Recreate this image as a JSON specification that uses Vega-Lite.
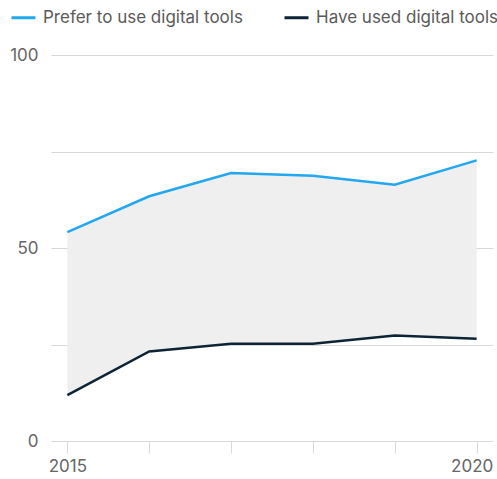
{
  "$schema": "https://vega.github.io/schema/vega-lite/v6.json",
  "width": 442,
  "height": 386,
  "autosize": {"type": "none"},
  "padding": {"left": 51, "top": 55, "right": 4, "bottom": 38},
  "background": "white",
  "config": {
    "view": {"stroke": null},
    "font": "Inter",
    "axis": {"labelFont": "Inter", "labelColor": "#666666", "labelFontSize": 17},
    "legend": {"labelFont": "Inter", "labelColor": "#5a5a5a", "labelFontSize": 17, "labelLimit": 0}
  },
  "data": {
    "values": [
      {"year": 2015, "Prefer to use digital tools": 54.1, "Have used digital tools": 11.9},
      {"year": 2016, "Prefer to use digital tools": 63.4, "Have used digital tools": 23.2},
      {"year": 2017, "Prefer to use digital tools": 69.4, "Have used digital tools": 25.2},
      {"year": 2018, "Prefer to use digital tools": 68.7, "Have used digital tools": 25.2},
      {"year": 2019, "Prefer to use digital tools": 66.4, "Have used digital tools": 27.3},
      {"year": 2020, "Prefer to use digital tools": 72.7, "Have used digital tools": 26.5}
    ]
  },
  "layer": [
    {
      "mark": {"type": "area", "color": "#efefef", "opacity": 1},
      "encoding": {
        "x": {
          "field": "year", "type": "quantitative",
          "scale": {"domain": [2014.8, 2020.2], "nice": false, "zero": false},
          "axis": {
            "title": null, "domain": false, "grid": false,
            "values": [2015, 2016, 2017, 2018, 2019, 2020],
            "format": "d",
            "labelExpr": "datum.value == 2015 || datum.value == 2020 ? datum.label : ''",
            "ticks": true, "tickSize": 12, "tickColor": "#d9d9d9", "tickWidth": 1,
            "labelPadding": 5,
            "labelOffset": {"condition": {"test": "datum.value == 2020", "value": -5}, "value": 0}
          }
        },
        "y": {
          "field": "Prefer to use digital tools", "type": "quantitative",
          "scale": {"domain": [0, 100], "nice": false},
          "axis": {
            "title": null, "domain": false, "ticks": false,
            "values": [0, 25, 50, 75, 100],
            "labelExpr": "datum.value % 50 === 0 ? datum.label : ''",
            "gridColor": "#d9d9d9", "gridWidth": 1,
            "labelPadding": 13
          }
        },
        "y2": {"field": "Have used digital tools"}
      }
    },
    {
      "transform": [
        {"fold": ["Prefer to use digital tools", "Have used digital tools"], "as": ["series", "value"]}
      ],
      "mark": {"type": "line", "strokeWidth": 2.5},
      "encoding": {
        "x": {"field": "year", "type": "quantitative"},
        "y": {"field": "value", "type": "quantitative"},
        "color": {
          "field": "series", "type": "nominal",
          "scale": {
            "domain": ["Prefer to use digital tools", "Have used digital tools"],
            "range": ["#22a7f0", "#0e2436"]
          },
          "legend": {
            "title": null,
            "orient": "none",
            "legendX": -41,
            "legendY": -51,
            "direction": "horizontal",
            "symbolType": "stroke",
            "symbolStrokeWidth": 3,
            "symbolSize": 576,
            "labelOffset": 6,
            "columnPadding": 35
          }
        }
      }
    }
  ]
}
